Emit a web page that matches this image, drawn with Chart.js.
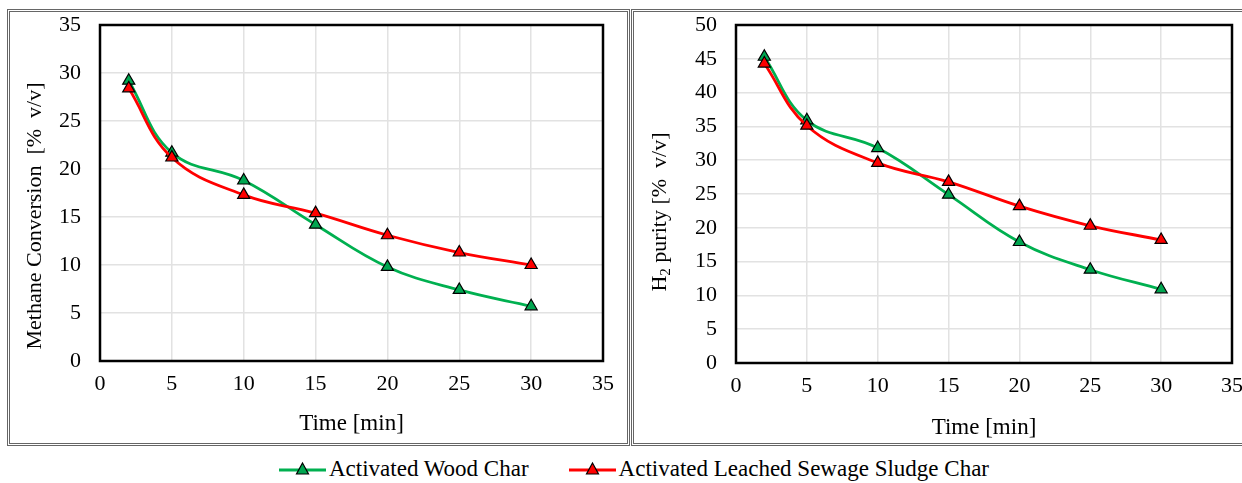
<!DOCTYPE html>
<html>
<head>
<meta charset="utf-8">
<script src="https://cdn.jsdelivr.net/npm/chart.js@4.4.0/dist/chart.umd.min.js"></script>
<style>
  html, body { margin: 0; padding: 0; background: #fff; }
  body { width: 1242px; height: 483px; position: relative; overflow: hidden; font-family: "Liberation Serif", "Times New Roman", serif; }
  .wrap { position: absolute; top: 0; }
  .frame { position: absolute; border: 3px double #666; box-sizing: border-box; pointer-events: none; }
  #legend { position: absolute; left: 279px; top: 456px; display: flex; align-items: center; font-size: 23px; color: #000; white-space: nowrap; }
  .item { display: flex; align-items: center; margin-right: 40px; }
  .item svg { margin-right: 3px; }
</style>
</head>
<body>
<div class="wrap" style="left:0;"><canvas id="methane" width="629" height="445"></canvas></div>
<div class="wrap" style="left:632px;"><canvas id="purity" width="610" height="445"></canvas></div>
<div class="frame" style="left:7px; top:9px; width:623px; height:437px;"></div>
<div class="frame" style="left:631px; top:9px; width:620px; height:437px;"></div>
<div id="legend"></div>

<script>
// --- data ---
const times = [2, 5, 10, 15, 20, 25, 30];
const woodMethane = [29.2, 21.7, 18.8, 14.2, 9.8, 7.4, 5.7];
const sludgeMethane = [28.4, 21.2, 17.3, 15.4, 13.1, 11.3, 10.0];
const woodH2 = [45.3, 35.9, 31.8, 24.9, 17.9, 13.8, 10.9];
const sludgeH2 = [44.3, 35.1, 29.6, 26.8, 23.2, 20.3, 18.2];
const seriesNames = ['Activated Wood Char', 'Activated Leached Sewage Sludge Char'];

const lineColors = ['#00B050', '#FF0000'];
const markerColors = ['#00A650', '#FF0000'];
const serif = 'Liberation Serif';

// black box around the plot area
const plotFrame = {
    id: 'plotFrame',
    beforeDatasetsDraw(chart) {
        const { ctx, chartArea: a } = chart;
        ctx.save();
        ctx.strokeStyle = '#000';
        ctx.lineWidth = 2.5;
        ctx.strokeRect(a.left, a.top, a.right - a.left, a.bottom - a.top);
        ctx.restore();
    }
};

// rotated y title, with subscript support (H2)
const yTitle = {
    id: 'yTitle',
    afterDraw(chart, args, opts) {
        const ctx = chart.ctx;
        const big = '22px "' + serif + '"';
        const small = '15px "' + serif + '"';
        ctx.save();
        ctx.translate(opts.x, opts.y);
        ctx.rotate(-Math.PI / 2);
        ctx.fillStyle = '#000';
        ctx.textBaseline = 'middle';
        let total = 0;
        opts.parts.forEach(p => {
            ctx.font = p.sub ? small : big;
            total += ctx.measureText(p.text).width;
        });
        let cx = -total / 2;
        opts.parts.forEach(p => {
            ctx.font = p.sub ? small : big;
            ctx.fillText(p.text, cx, p.sub ? 6 : 0);
            cx += ctx.measureText(p.text).width;
        });
        ctx.restore();
    }
};

function toPoints(values) {
    return values.map((v, i) => ({ x: times[i], y: v }));
}

function makeChart(id, wood, sludge, cfg) {
    const datasets = [wood, sludge].map((vals, i) => ({
        label: seriesNames[i],
        data: toPoints(vals),
        borderColor: lineColors[i],
        borderWidth: 2.8,
        tension: 0.4,
        pointStyle: 'triangle',
        pointRadius: 7,
        pointBackgroundColor: markerColors[i],
        pointBorderColor: '#000',
        pointBorderWidth: 1.2,
        order: 2 - i
    }));

    return new Chart(document.getElementById(id), {
        type: 'line',
        data: { datasets: datasets },
        options: {
            responsive: false,
            animation: false,
            layout: { padding: { top: 25, right: cfg.padRight, left: 0, bottom: 0 } },
            plugins: {
                legend: { display: false },
                tooltip: { enabled: false },
                yTitle: cfg.yTitle
            },
            scales: {
                x: {
                    type: 'linear',
                    min: 0, max: 35,
                    ticks: { stepSize: 5, padding: 10, color: '#000', font: { family: serif, size: 22 } },
                    grid: { color: '#e2e2e2', lineWidth: 1.5, drawTicks: false },
                    border: { display: false },
                    title: { display: true, text: 'Time [min]', color: '#000', font: { family: serif, size: 23 }, padding: { top: 0, bottom: cfg.xTitlePad } },
                    afterFit(s) { s.height = cfg.xHeight; s.paddingLeft = 0; s.paddingRight = 0; }
                },
                y: {
                    min: 0, max: cfg.yMax,
                    ticks: { stepSize: 5, padding: 19, color: '#000', font: { family: serif, size: 22 } },
                    grid: { color: '#e2e2e2', lineWidth: 1.5, drawTicks: false },
                    border: { display: false },
                    afterFit(s) { s.width = cfg.yWidth; s.paddingTop = 0; s.paddingBottom = 0; }
                }
            }
        },
        plugins: [plotFrame, yTitle]
    });
}

makeChart('methane', woodMethane, sludgeMethane, {
    yMax: 35, yWidth: 100, xHeight: 84, padRight: 26, xTitlePad: 7,
    yTitle: { x: 35, y: 216, parts: [{ text: 'Methane Conversion  [%  v/v]' }] }
});

makeChart('purity', woodH2, sludgeH2, {
    yMax: 50, yWidth: 104, xHeight: 82, padRight: 10, xTitlePad: 3,
    yTitle: { x: 28, y: 212, parts: [{ text: 'H' }, { text: '2', sub: true }, { text: ' purity [%  v/v]' }] }
});

// legend built from the series names / colours
const legend = document.getElementById('legend');
seriesNames.forEach((name, i) => {
    const item = document.createElement('div');
    item.className = 'item';
    item.innerHTML =
        '<svg width="47" height="18" viewBox="0 0 47 18">' +
        '<line x1="0" y1="10" x2="47" y2="10" stroke="' + lineColors[i] + '" stroke-width="3"/>' +
        '<polygon points="23.5,3 29.5,14 17.5,14" fill="' + markerColors[i] + '" stroke="#000" stroke-width="1.2"/>' +
        '</svg><span>' + name + '</span>';
    legend.appendChild(item);
});
</script>
</body>
</html>
